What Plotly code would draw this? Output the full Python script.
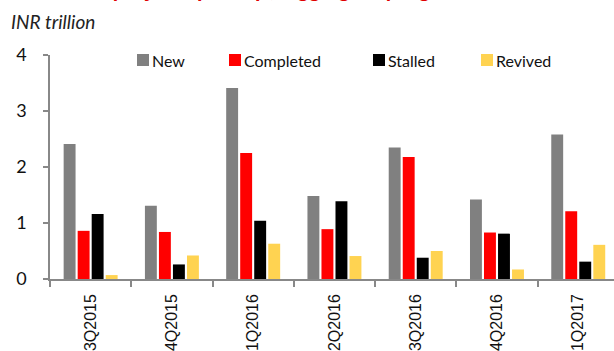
import plotly.graph_objects as go

categories = ["3Q2015", "4Q2015", "1Q2016", "2Q2016", "3Q2016", "4Q2016", "1Q2017"]
new_vals = [2.41, 1.31, 3.41, 1.48, 2.35, 1.42, 2.58]
completed_vals = [0.86, 0.84, 2.25, 0.89, 2.18, 0.83, 1.21]
stalled_vals = [1.16, 0.26, 1.04, 1.39, 0.38, 0.81, 0.31]
revived_vals = [0.07, 0.42, 0.63, 0.41, 0.50, 0.17, 0.61]
y_ticks = [0, 1, 2, 3, 4]

series_names = ["New", "Completed", "Stalled", "Revived"]
series_vals = [new_vals, completed_vals, stalled_vals, revived_vals]
series_colors = ["#808080", "#FF0000", "#000000", "#FFD351"]

W, H = 614, 351
ml, mr, mt, mb = 50, 0, 55, 72
ph = H - mt - mb
pw = W - ml - mr

def py(p):
    return (H - mb - p) / ph

def px(p):
    return (p - ml) / pw

fig = go.Figure()
for name, vals, color in zip(series_names, series_vals, series_colors):
    fig.add_trace(go.Bar(x=categories, y=vals, name=name, marker_color=color,
                         marker_line_width=0, showlegend=False))

fig.update_layout(
    width=W, height=H,
    margin=dict(l=ml, r=mr, t=mt, b=mb, pad=0, autoexpand=False),
    paper_bgcolor="white", plot_bgcolor="white",
    barmode="group", bargap=0.31, bargroupgap=0.15,
    font=dict(family="Lato, Liberation Sans, sans-serif", size=15, color="#222"),
    showlegend=False,
    xaxis=dict(
        type="category", range=[-0.5, 6.44], automargin=False,
        showline=True, linecolor="#888", linewidth=1.5,
        ticks="outside", tickson="boundaries", ticklen=6, tickcolor="#888", tickwidth=1.5,
        tickangle=-90, showgrid=False, ticklabelstandoff=7,
        tickfont=dict(family="Liberation Sans, Arial, sans-serif", size=16, color="#111"),
    ),
    yaxis=dict(
        range=[0, 4], tickvals=y_ticks, automargin=False,
        showline=True, linecolor="#888", linewidth=1.5,
        ticks="outside", ticklen=5, tickcolor="#888", tickwidth=1.5,
        showgrid=False, zeroline=False, ticklabelstandoff=13,
        tickfont=dict(family="Lato, sans-serif", size=18, color="#111"),
    ),
)

# Legend (drawn manually to match the reference's compact key)
legend_x = [137, 229, 373, 481]
for name, color, lx in zip(series_names, series_colors, legend_x):
    fig.add_shape(type="rect", xref="paper", yref="paper",
                  x0=px(lx), x1=px(lx + 12), y0=py(66), y1=py(54),
                  fillcolor=color, line=dict(width=0))
    fig.add_annotation(text=name, xref="paper", yref="paper",
                       x=px(lx + 14), y=py(60), xanchor="left", yanchor="middle",
                       showarrow=False, borderpad=0,
                       font=dict(family="Lato, sans-serif", size=16, color="#111"))

fig.add_annotation(text="<i>INR trillion</i>", xref="paper", yref="paper",
                   x=px(9), y=py(21), xanchor="left", yanchor="middle", showarrow=False,
                   font=dict(family="Lato, sans-serif", size=19, color="#222"))
fig.add_annotation(text="<b>New projects pick up</b>", xref="paper", yref="paper",
                   x=px(270), y=py(3.5), xanchor="right", yanchor="bottom", showarrow=False,
                   font=dict(family="Lato, sans-serif", size=22, color="#E00000"))
fig.add_annotation(text="<b>, lagging on progress</b>", xref="paper", yref="paper",
                   x=px(268), y=py(3.5), xanchor="left", yanchor="bottom", showarrow=False,
                   font=dict(family="Lato, sans-serif", size=22, color="#E00000"))

fig.write_html("out.html")
